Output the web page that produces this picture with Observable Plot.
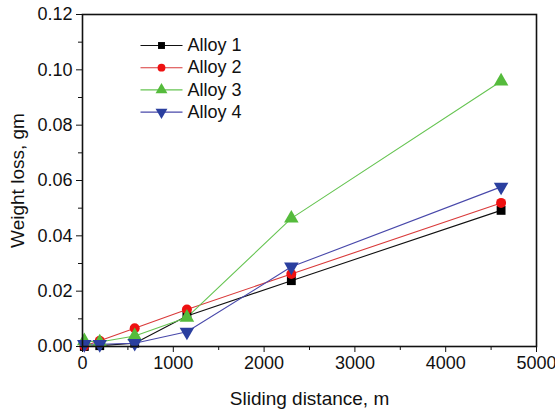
<!DOCTYPE html>
<html>
<head>
<meta charset="utf-8">
<script src="https://cdn.jsdelivr.net/npm/d3@7"></script>
<script src="https://cdn.jsdelivr.net/npm/@observablehq/plot@0.6"></script>
<style>
  html, body { margin: 0; padding: 0; background: #fff; }
  #chart { width: 555px; height: 410px; }
</style>
</head>
<body>
<div id="chart"></div>
<script>
// ---- data ----
const distance = [20, 190, 575, 1150, 2300, 4610];
const alloy1 = [0.0000, 0.0003, 0.0012, 0.0110, 0.0238, 0.0492];
const alloy2 = [0.0002, 0.0021, 0.0066, 0.0134, 0.0262, 0.0519];
const alloy3 = [0.0020, 0.0016, 0.0038, 0.0105, 0.0463, 0.0959];
const alloy4 = [0.0008, 0.0008, 0.0012, 0.0053, 0.0288, 0.0577];

const seriesNames = ["Alloy 1", "Alloy 2", "Alloy 3", "Alloy 4"];
const seriesValues = [alloy1, alloy2, alloy3, alloy4];
const lineColors = ["#111111", "#d93a3a", "#66c452", "#4848aa"];
const markerColors = ["#000000", "#ee1111", "#55bb3c", "#2a3f9f"];
const markerSymbols = ["square", "circle", "triangle", "triangle"];
const markerRotate = [0, 0, 0, 180];

const xMajorTicks = [0, 1000, 2000, 3000, 4000, 5000];
const xMinorTicks = [500, 1500, 2500, 3500, 4500];
const yMajorTicks = [0, 0.02, 0.04, 0.06, 0.08, 0.10, 0.12];
const yMinorTicks = [0.01, 0.03, 0.05, 0.07, 0.09, 0.11];

// ---- build table ----
const rows = [];
seriesNames.forEach((name, s) => {
  distance.forEach((d, i) => rows.push({series: name, s, x: d, y: seriesValues[s][i]}));
});

const font = "Liberation Sans, Arial, Helvetica, sans-serif";
const marks = [];

// lines + markers
seriesNames.forEach((name, s) => {
  const data = rows.filter(r => r.s === s);
  marks.push(Plot.line(data, {x: "x", y: "y", stroke: lineColors[s], strokeWidth: 1.1}));
});
seriesNames.forEach((name, s) => {
  const data = rows.filter(r => r.s === s);
  marks.push(Plot.dot(data, {
    x: "x", y: "y", symbol: markerSymbols[s], r: s >= 2 ? 5.4 : 5,
    fill: markerColors[s], stroke: "none", rotate: markerRotate[s]
  }));
});

// legend (placed relative to the frame)
const legendLine = {draw(ctx) { ctx.moveTo(-21, 0); ctx.lineTo(21, 0); }};
seriesNames.forEach((name, s) => {
  const dy = 31 + s * 22.2;
  marks.push(Plot.dot([name], {frameAnchor: "top-left", dx: 79, dy, symbol: legendLine,
    fill: "none", stroke: lineColors[s], strokeWidth: 1.1, r: 5}));
  marks.push(Plot.dot([name], {frameAnchor: "top-left", dx: 79, dy, symbol: markerSymbols[s],
    r: s >= 2 ? 4.4 : 3.9, fill: markerColors[s], stroke: "none", rotate: markerRotate[s]}));
  marks.push(Plot.text([name], {frameAnchor: "top-left", dx: 105, dy, textAnchor: "start",
    lineAnchor: "middle", fontSize: 18, fill: "#111", fontFamily: font}));
});

// axes
marks.push(Plot.axisX({ticks: xMajorTicks, tickSize: 6, tickPadding: 4, tickFormat: d3.format("d"), label: null, fontSize: 18}));
marks.push(Plot.axisX({ticks: xMinorTicks, tickSize: 4, tickFormat: () => "", label: null}));
marks.push(Plot.axisY({ticks: yMajorTicks, tickSize: 6, tickPadding: 4, tickFormat: d3.format(".2f"), label: null, fontSize: 18}));
marks.push(Plot.axisY({ticks: yMinorTicks, tickSize: 4, tickFormat: () => "", label: null}));
marks.push(Plot.frame({stroke: "#111", strokeWidth: 1.6}));

// axis titles
marks.push(Plot.text(["Sliding distance, m"], {frameAnchor: "bottom", dy: 52, lineAnchor: "middle",
  textAnchor: "middle", fontSize: 19, fill: "#111", fontFamily: font}));
marks.push(Plot.text(["Weight loss, gm"], {frameAnchor: "left", dx: -65, rotate: -90, textAnchor: "middle",
  lineAnchor: "middle", fontSize: 19, fill: "#111", fontFamily: font}));

const chart = Plot.plot({
  width: 555,
  height: 410,
  marginLeft: 82,
  marginRight: 19,
  marginTop: 14,
  marginBottom: 64,
  style: {fontFamily: font, fontSize: "18px", color: "#111", background: "#fff", overflow: "visible"},
  x: {domain: [0, 5000], axis: null},
  y: {domain: [0, 0.12], axis: null},
  marks
});
document.getElementById("chart").appendChild(chart);
</script>
</body>
</html>
